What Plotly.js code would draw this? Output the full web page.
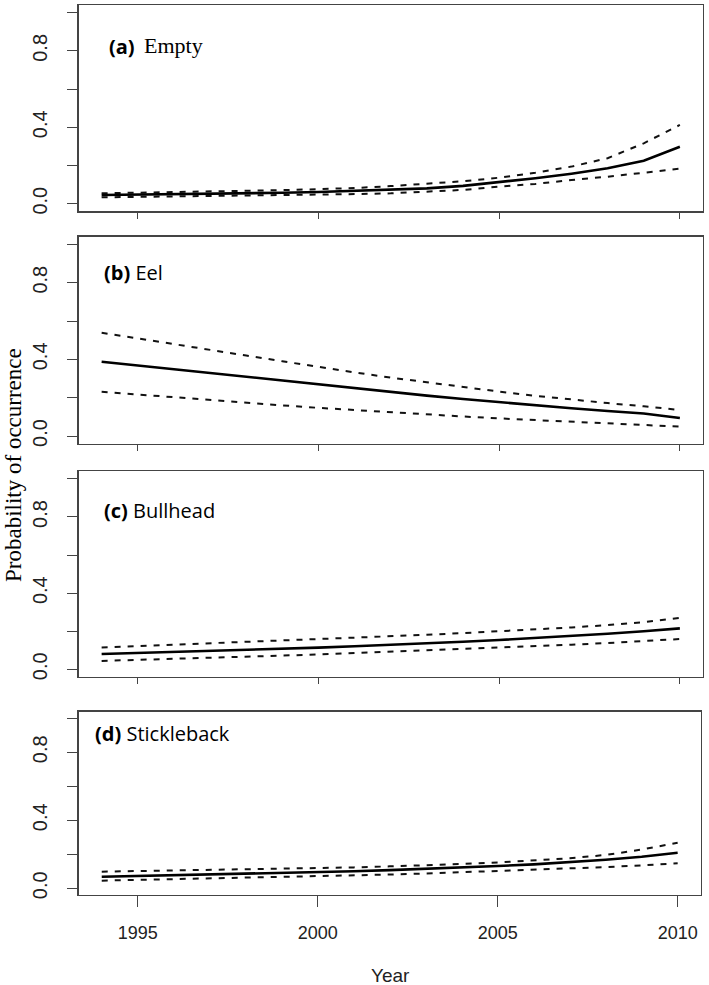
<!DOCTYPE html>
<html>
<head>
<meta charset="utf-8">
<script src="https://cdn.plot.ly/plotly-3.0.1.min.js"></script>
<style>html,body{margin:0;padding:0;background:#fff;}#chart{width:709px;height:985px;}</style>
</head>
<body>
<div id="chart"></div>
<script>
// ---- Data ----
var years = [1994,1995,1996,1997,1998,1999,2000,2001,2002,2003,2004,2005,2006,2007,2008,2009,2010];

var emptyMean  = [0.045,0.047,0.049,0.051,0.054,0.057,0.061,0.066,0.073,0.080,0.093,0.112,0.133,0.157,0.185,0.225,0.298];
var emptyUpper = [0.054,0.057,0.060,0.063,0.067,0.071,0.076,0.082,0.092,0.103,0.117,0.136,0.162,0.194,0.238,0.316,0.412];
var emptyLower = [0.033,0.035,0.037,0.039,0.041,0.043,0.046,0.050,0.054,0.063,0.072,0.089,0.103,0.124,0.141,0.162,0.183];

var eelMean  = [0.388,0.368,0.348,0.328,0.308,0.288,0.268,0.248,0.229,0.211,0.193,0.176,0.160,0.145,0.131,0.118,0.094];
var eelUpper = [0.539,0.510,0.480,0.450,0.420,0.390,0.360,0.332,0.305,0.280,0.255,0.232,0.210,0.190,0.172,0.155,0.136];
var eelLower = [0.231,0.216,0.201,0.187,0.173,0.160,0.147,0.135,0.123,0.112,0.102,0.092,0.083,0.074,0.066,0.058,0.049];

var bullMean  = [0.080,0.085,0.090,0.095,0.101,0.107,0.114,0.121,0.128,0.136,0.145,0.154,0.164,0.175,0.187,0.200,0.215];
var bullUpper = [0.115,0.122,0.129,0.136,0.143,0.150,0.157,0.165,0.173,0.181,0.190,0.199,0.209,0.220,0.232,0.248,0.270];
var bullLower = [0.044,0.049,0.054,0.060,0.066,0.072,0.078,0.085,0.091,0.098,0.105,0.113,0.121,0.129,0.138,0.148,0.159];

var stickMean  = [0.068,0.072,0.076,0.080,0.084,0.089,0.094,0.100,0.107,0.114,0.122,0.131,0.141,0.153,0.168,0.186,0.209];
var stickUpper = [0.098,0.101,0.104,0.107,0.110,0.114,0.118,0.123,0.129,0.135,0.143,0.152,0.163,0.177,0.196,0.228,0.268];
var stickLower = [0.045,0.049,0.053,0.057,0.061,0.065,0.070,0.075,0.081,0.087,0.094,0.101,0.108,0.116,0.125,0.135,0.147];

var panelLabels = ["(a)", "(b)", "(c)", "(d)"];
var panelNames  = ["Empty", "Eel", "Bullhead", "Stickleback"];
var yTickVals = [0, 0.2, 0.4, 0.6, 0.8, 1.0];
var yTickText = ["0.0", "", "0.4", "", "0.8", ""];
var xTickVals = [1995, 2000, 2005, 2010];
var xTickText = ["1995", "2000", "2005", "2010"];
var yTitle = "Probability of occurrence";
var xTitle = "Year";

// ---- Layout helpers ----
var W = 709, H = 985;
function px(v){ return v / W; }
function py(v){ return 1 - v / H; }

var series = [
  [emptyMean, emptyUpper, emptyLower],
  [eelMean, eelUpper, eelLower],
  [bullMean, bullUpper, bullLower],
  [stickMean, stickUpper, stickLower]
];

// pixel boxes [left, right, top, bottom]
var boxes = [
  [78.5, 703, 5, 211.3],
  [78.5, 703, 236.7, 443.7],
  [78.5, 703, 471.3, 676.9],
  [78.7, 700.7, 711.5, 895.1]
];

var traces = [];
var layout = {
  width: W, height: H,
  margin: {l:0, r:0, t:0, b:0},
  paper_bgcolor: '#fff', plot_bgcolor: '#fff',
  showlegend: false,
  annotations: []
};

var sansNarrow = '"Liberation Sans Narrow", "Arial Narrow", "Liberation Sans", Arial, sans-serif';

for (var i = 0; i < 4; i++) {
  var xa = i === 0 ? 'x' : 'x' + (i+1);
  var ya = i === 0 ? 'y' : 'y' + (i+1);
  var s = series[i];
  var dashStyle = {color:'#111', width:2, dash:'6px,7px'};
  traces.push({x: years, y: s[1], xaxis: xa, yaxis: ya, mode:'lines', line: dashStyle, hoverinfo:'skip'});
  traces.push({x: years, y: s[2], xaxis: xa, yaxis: ya, mode:'lines', line: dashStyle, hoverinfo:'skip'});
  traces.push({x: years, y: s[0], xaxis: xa, yaxis: ya, mode:'lines', line: {color:'#000', width:2.6}, hoverinfo:'skip'});

  var b = boxes[i];
  var last = (i === 3);
  layout['xaxis' + (i === 0 ? '' : i+1)] = {
    domain: [px(b[0]), px(b[1])],
    anchor: ya,
    range: [1993.36, 2010.64],
    tickmode: 'array', tickvals: xTickVals, ticktext: xTickText,
    showticklabels: last,
    ticks: 'outside', ticklen: last ? 11 : 6, tickwidth: 1, tickcolor: '#444',
    showline: true, linecolor: '#444', linewidth: 1.3, mirror: true,
    showgrid: false, zeroline: false,
    ticklabelstandoff: 10,
    tickfont: {family: sansNarrow, size: 18, color: '#222'}
  };
  layout['yaxis' + (i === 0 ? '' : i+1)] = {
    domain: [py(b[3]), py(b[2])],
    anchor: xa,
    range: [-0.04, 1.04],
    tickmode: 'array', tickvals: yTickVals, ticktext: yTickText,
    tickangle: -90,
    ticks: 'outside', ticklen: 10, tickwidth: 1, tickcolor: '#444',
    showline: true, linecolor: '#444', linewidth: 1.3, mirror: true,
    showgrid: false, zeroline: false,
    ticklabelstandoff: 12,
    tickfont: {family: sansNarrow, size: 20, color: '#222'}
  };
}

// panel labels
var labelPos = [[107, 47], [102, 272], [102, 511], [93, 733]];
layout.annotations.push({
  text: '<b>' + panelLabels[0] + '</b>', xref:'paper', yref:'paper',
  x: px(labelPos[0][0]), y: py(labelPos[0][1]), xanchor:'left', yanchor:'middle', showarrow:false,
  font: {family:'"Open Sans", "Noto Sans", sans-serif', size:20, color:'#000'}
});
layout.annotations.push({
  text: panelNames[0], xref:'paper', yref:'paper',
  x: px(142), y: py(labelPos[0][1] - 1), xanchor:'left', yanchor:'middle', showarrow:false,
  font: {family:'"Liberation Serif", "Times New Roman", serif', size:22, color:'#000'}
});
for (var j = 1; j < 4; j++) {
  layout.annotations.push({
    text: '<b>' + panelLabels[j] + '</b> ' + panelNames[j], xref:'paper', yref:'paper',
    x: px(labelPos[j][0]), y: py(labelPos[j][1]), xanchor:'left', yanchor:'middle', showarrow:false,
    font: {family:'"Open Sans", "Noto Sans", sans-serif', size:20, color:'#000'}
  });
}

// axis titles
layout.annotations.push({
  text: yTitle, xref:'paper', yref:'paper', x: px(13), y: py(465),
  xanchor:'center', yanchor:'middle', textangle: -90, showarrow:false,
  font: {family:'"Liberation Serif", "Times New Roman", serif', size:23, color:'#000'}
});
layout.annotations.push({
  text: xTitle, xref:'paper', yref:'paper', x: px(390), y: py(975),
  xanchor:'center', yanchor:'middle', showarrow:false,
  font: {family: sansNarrow, size:19, color:'#222'}
});

Plotly.newPlot('chart', traces, layout, {staticPlot:true, displayModeBar:false});
</script>
</body>
</html>
